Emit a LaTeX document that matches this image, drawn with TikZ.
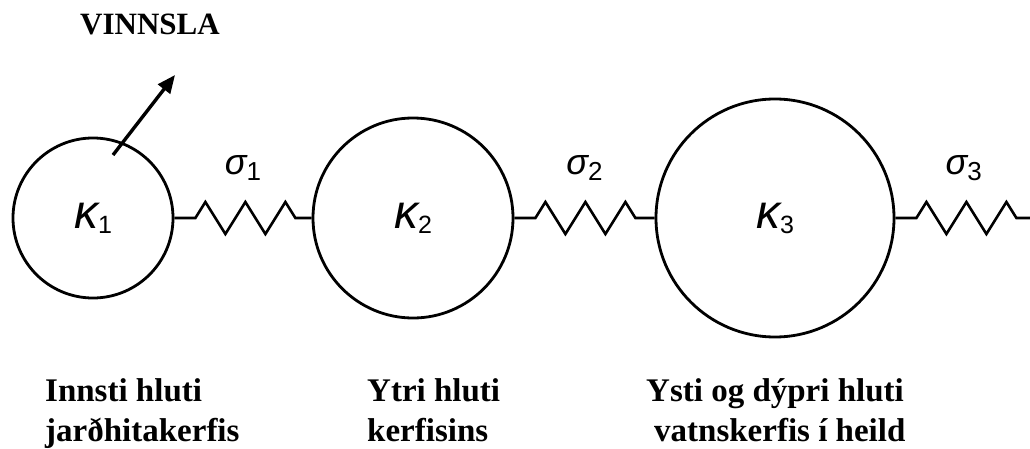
\documentclass[tikz,border=0pt]{standalone}
\usepackage{fontspec}
\setmainfont{Liberation Serif}
\newfontfamily\greeksf{Liberation Sans}
\usetikzlibrary{arrows.meta,positioning,calc,decorations.pathmorphing}

\newcommand{\kapsub}[1]{{\fontsize{48}{48}\selectfont\greeksf\itshape κ}\raisebox{-5pt}{\fontsize{25}{25}\selectfont\greeksf #1}}
\newcommand{\sigsub}[1]{{\fontsize{36}{36}\selectfont\greeksf\itshape σ}\raisebox{-6pt}{\fontsize{26}{26}\selectfont\greeksf #1}}

\begin{document}
\begin{tikzpicture}[x=1pt,y=1pt,>=Stealth,
  tank/.style={draw,circle,line width=2.8pt,inner sep=0pt},
  spring/.style={decorate,line width=2.6pt,
    decoration={zigzag,segment length=40pt,amplitude=16pt,pre length=21pt,post length=#1}},
  coeff/.style={above=36pt,inner sep=0pt},
  caption/.style={font=\fontsize{33}{40}\selectfont\bfseries,align=left,anchor=base west,inner sep=0pt}]
\useasboundingbox (0,0) rectangle (1030,448);
% reservoirs
\node[tank,minimum size=160pt] (k1) at (93,230) {\kapsub{1}};
\node[tank,minimum size=200pt] (k2) at (413,230) {\kapsub{2}};
\node[tank,minimum size=238pt] (k3) at (775,230) {\kapsub{3}};
\coordinate (open) at (1032,230);
% connections
\draw[spring=15pt] (k1) -- node[coeff]{\sigsub{1}} (k2);
\draw[spring=18pt] (k2) -- node[coeff]{\sigsub{2}} (k3);
\draw[spring=15pt] (k3) -- node[coeff]{\sigsub{3}} (open);
% production
\coordinate (well) at (113,293);
\coordinate (yield) at (175,373);
\draw[-{Triangle[length=18pt,width=15pt]},line width=3.4pt] (well) -- (yield);
\node[caption,font=\fontsize{31}{31}\selectfont\bfseries] (vinnsla) at (80,413) {VINNSLA};
% captions (base = last line)
\node[caption] (innsti) at (45,7) {Innsti hluti\\jarðhitakerfis};
\node[caption] (ytri) at (367,7) {Ytri hluti\\kerfisins};
\node[caption] (ysti) at (646,7) {Ysti og dýpri hluti\\\hspace*{8pt}vatnskerfis í heild};
\end{tikzpicture}
\end{document}
